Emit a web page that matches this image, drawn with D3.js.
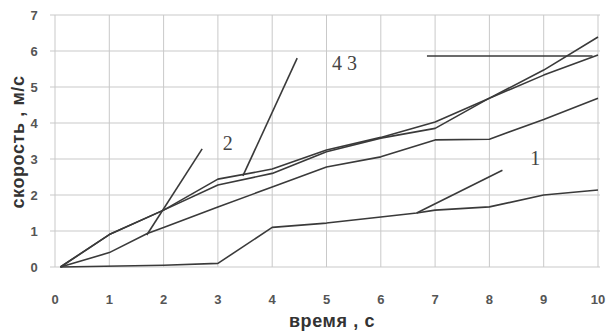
<!DOCTYPE html>
<html>
<head>
<meta charset="utf-8">
<script src="https://cdn.jsdelivr.net/npm/d3@7"></script>
<style>
  body { margin: 0; background: #fff; }
  svg { display: block; }
  .grid line { stroke: #c9c9c9; stroke-width: 1; }
  .curve { fill: none; stroke: #3a3a3a; stroke-width: 1.6; stroke-linejoin: round; }
  .tick-label { font-family: Arial, "Liberation Sans", sans-serif; font-weight: bold; font-size: 13px; fill: #555; }
  .axis-title { font-family: Arial, "Liberation Sans", sans-serif; font-weight: bold; font-size: 18px; fill: #333; letter-spacing: 0.6px; }
  .curve-label { font-family: "Times New Roman", "Liberation Serif", serif; font-size: 20px; fill: #444; }
</style>
</head>
<body>
<div id="chart"></div>
<script>
// Data: [time, speed]
const curve1 = [[0.1, 0], [2, 0.05], [3, 0.1], [4, 1.1], [5, 1.22], [6, 1.39], [6.66, 1.5], [7, 1.58], [8, 1.67], [9, 2.0], [10, 2.14]];
const curve2 = [[0.1, 0], [1, 0.4], [1.7, 0.93], [2, 1.1], [3, 1.67], [4, 2.22], [5, 2.78], [6, 3.06], [7, 3.53], [8, 3.55], [9, 4.1], [10, 4.69]];
const curve3 = [[0.1, 0], [1, 0.9], [2, 1.58], [3, 2.44], [4, 2.72], [5, 3.25], [6, 3.6], [7, 4.03], [8, 4.69], [9, 5.33], [10, 5.89]];
const curve4 = [[0.1, 0], [1, 0.9], [2, 1.58], [3, 2.28], [4, 2.6], [5, 3.2], [6, 3.58], [7, 3.85], [8, 4.69], [9, 5.47], [10, 6.39]];

// Tangent lines
const tangent1 = [[6.66, 1.5], [8.24, 2.69]];
const tangent2 = [[1.69, 0.89], [2.71, 3.28]];
const tangent3 = [[6.85, 5.86], [9.9, 5.86]];
const tangent4 = [[3.46, 2.53], [4.46, 5.8]];

// Curve labels
const curveLabels = [
  { text: "1", t: 8.75, v: 2.83 },
  { text: "2", t: 3.09, v: 3.25 },
  { text: "4 3", t: 5.1, v: 5.47 }
];

const xTicks = [0, 1, 2, 3, 4, 5, 6, 7, 8, 9, 10];
const yTicks = [0, 1, 2, 3, 4, 5, 6, 7];
const xTitle = "время , с";
const yTitle = "скорость , м/с";

const width = 608, height = 333;

const svg = d3.select("#chart")
  .append("svg")
  .attr("width", width)
  .attr("height", height);

const x = d3.scaleLinear().domain([0, 10]).range([55, 598]);
const y = d3.scaleLinear().domain([0, 7]).range([267, 15]);

// Gridlines
const grid = svg.append("g").attr("class", "grid");
grid.selectAll(".h")
  .data(yTicks)
  .join("line")
  .attr("x1", x(0) - 5)
  .attr("x2", x(10) + 2)
  .attr("y1", d => y(d))
  .attr("y2", d => y(d));
grid.selectAll(".v")
  .data(xTicks)
  .join("line")
  .attr("x1", d => x(d))
  .attr("x2", d => x(d))
  .attr("y1", y(7))
  .attr("y2", y(0));

// Tick labels
svg.append("g")
  .selectAll("text")
  .data(yTicks)
  .join("text")
  .attr("class", "tick-label")
  .attr("x", 34)
  .attr("y", d => y(d) + 5)
  .attr("text-anchor", "middle")
  .text(d => d);

svg.append("g")
  .selectAll("text")
  .data(xTicks)
  .join("text")
  .attr("class", "tick-label")
  .attr("x", d => x(d))
  .attr("y", 304)
  .attr("text-anchor", "middle")
  .text(d => d);

// Axis titles
svg.append("text")
  .attr("class", "axis-title")
  .attr("x", 332)
  .attr("y", 327)
  .attr("text-anchor", "middle")
  .text(xTitle);

svg.append("text")
  .attr("class", "axis-title")
  .attr("transform", "translate(24,142) rotate(-90)")
  .attr("text-anchor", "middle")
  .text(yTitle);

// Curves
const line = d3.line()
  .x(d => x(d[0]))
  .y(d => y(d[1]));

[curve1, curve2, curve3, curve4, tangent1, tangent2, tangent3, tangent4].forEach(data => {
  svg.append("path")
    .datum(data)
    .attr("class", "curve")
    .attr("d", line);
});

svg.append("g")
  .selectAll("text")
  .data(curveLabels)
  .join("text")
  .attr("class", "curve-label")
  .attr("x", d => x(d.t))
  .attr("y", d => y(d.v))
  .attr("xml:space", "preserve")
  .text(d => d.text);
</script>
</body>
</html>
